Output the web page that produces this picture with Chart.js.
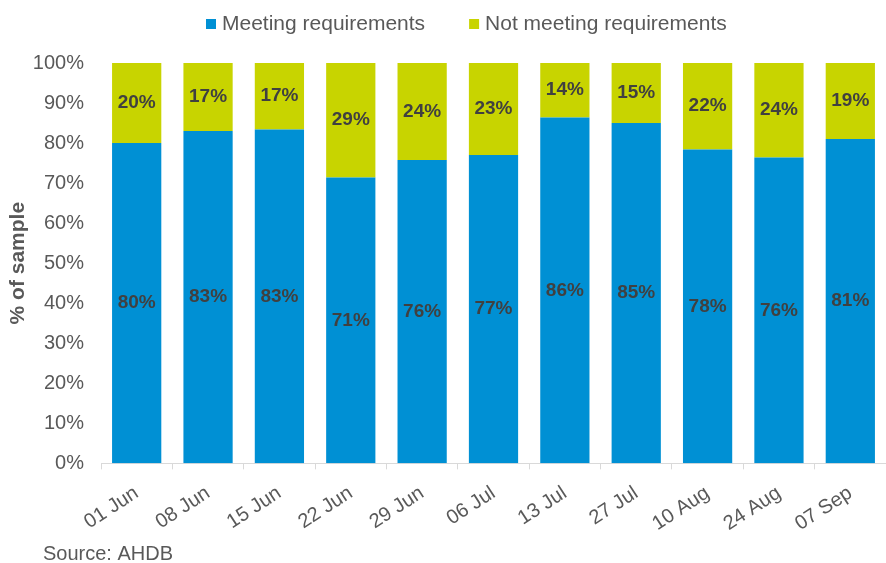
<!DOCTYPE html>
<html lang="en">
<head>
  <meta charset="UTF-8">
  <title>Meeting requirements</title>
  <script src="https://cdn.jsdelivr.net/npm/chart.js"></script>
  <style>
    * { margin: 0; padding: 0; box-sizing: border-box; }
    body { background: #fff; width: 886px; height: 563px; overflow: hidden; }
    canvas { display: block; }
  </style>
</head>
<body>
  <canvas id="chart" width="886" height="563"></canvas>

  <script>
    // data
    const dates = ['01 Jun', '08 Jun', '15 Jun', '22 Jun', '29 Jun', '06 Jul', '13 Jul', '27 Jul', '10 Aug', '24 Aug', '07 Sep'];
    const meeting = [80, 83, 83.4, 71.4, 75.8, 77, 86.4, 85, 78.4, 76.4, 81];
    const notMeeting = [20, 17, 16.6, 28.6, 24.2, 23, 13.6, 15, 21.6, 23.6, 19];
    const yTicks = [0, 10, 20, 30, 40, 50, 60, 70, 80, 90, 100];

    const textGrey = '#595959';
    const font = 'Liberation Sans, Arial, sans-serif';

    // value labels in the middle of each segment
    const segmentLabels = {
      id: 'segmentLabels',
      afterDatasetsDraw(chart) {
        const ctx = chart.ctx;
        ctx.save();
        ctx.font = 'bold 19px ' + font;
        ctx.fillStyle = '#404040';
        ctx.textAlign = 'center';
        ctx.textBaseline = 'middle';
        chart.data.datasets.forEach((ds, i) => {
          chart.getDatasetMeta(i).data.forEach((bar, j) => {
            const mid = (bar.y + bar.base) / 2;
            ctx.fillText(Math.round(ds.data[j]) + '%', bar.x, mid);
          });
        });
        ctx.restore();
      }
    };

    // legend drawn by hand so the spacing matches the original
    const topLegend = {
      id: 'topLegend',
      afterDraw(chart) {
        const ctx = chart.ctx;
        ctx.save();
        ctx.font = '21px ' + font;
        ctx.textBaseline = 'middle';
        let x = 206;
        const y = 24;
        chart.data.datasets.forEach(ds => {
          ctx.fillStyle = ds.backgroundColor;
          ctx.fillRect(x, y - 5, 10, 10);
          x += 16;
          ctx.fillStyle = textGrey;
          ctx.fillText(ds.label, x, y);
          x += ctx.measureText(ds.label).width + 44;
        });
        ctx.restore();
      }
    };

    const sourceNote = {
      id: 'sourceNote',
      afterDraw(chart) {
        const ctx = chart.ctx;
        ctx.save();
        ctx.font = '20px ' + font;
        ctx.fillStyle = textGrey;
        ctx.textBaseline = 'alphabetic';
        ctx.fillText('Source: AHDB', 43, 560);
        ctx.restore();
      }
    };

    new Chart(document.getElementById('chart'), {
      type: 'bar',
      data: {
        labels: dates,
        datasets: [
          { label: 'Meeting requirements', data: meeting, backgroundColor: '#0090d4' },
          { label: 'Not meeting requirements', data: notMeeting, backgroundColor: '#c8d400' }
        ]
      },
      options: {
        responsive: false,
        animation: false,
        barPercentage: 0.69,
        categoryPercentage: 1,
        layout: { padding: { top: 63, right: 0, bottom: 15, left: 4 } },
        plugins: {
          legend: { display: false },
          tooltip: { enabled: false }
        },
        scales: {
          x: {
            stacked: true,
            grid: { offset: true, drawOnChartArea: false, color: '#d9d9d9', tickLength: 6 },
            border: { color: '#d9d9d9' },
            ticks: {
              color: textGrey,
              padding: 12,
              minRotation: 33,
              maxRotation: 33,
              font: { family: font, size: 20 }
            }
          },
          y: {
            stacked: true,
            min: 0,
            max: 100,
            afterBuildTicks(axis) { axis.ticks = yTicks.map(v => ({ value: v })); },
            afterFit(axis) { axis.width = 97; },
            grid: { display: false },
            border: { display: false },
            ticks: {
              color: textGrey,
              padding: 9,
              font: { family: font, size: 20 },
              callback: v => v + '%'
            },
            title: {
              display: true,
              text: '% of sample',
              color: textGrey,
              padding: { top: 2, bottom: 0 },
              font: { family: font, size: 21, weight: 'bold' }
            }
          }
        }
      },
      plugins: [segmentLabels, topLegend, sourceNote]
    });
  </script>
</body>
</html>
